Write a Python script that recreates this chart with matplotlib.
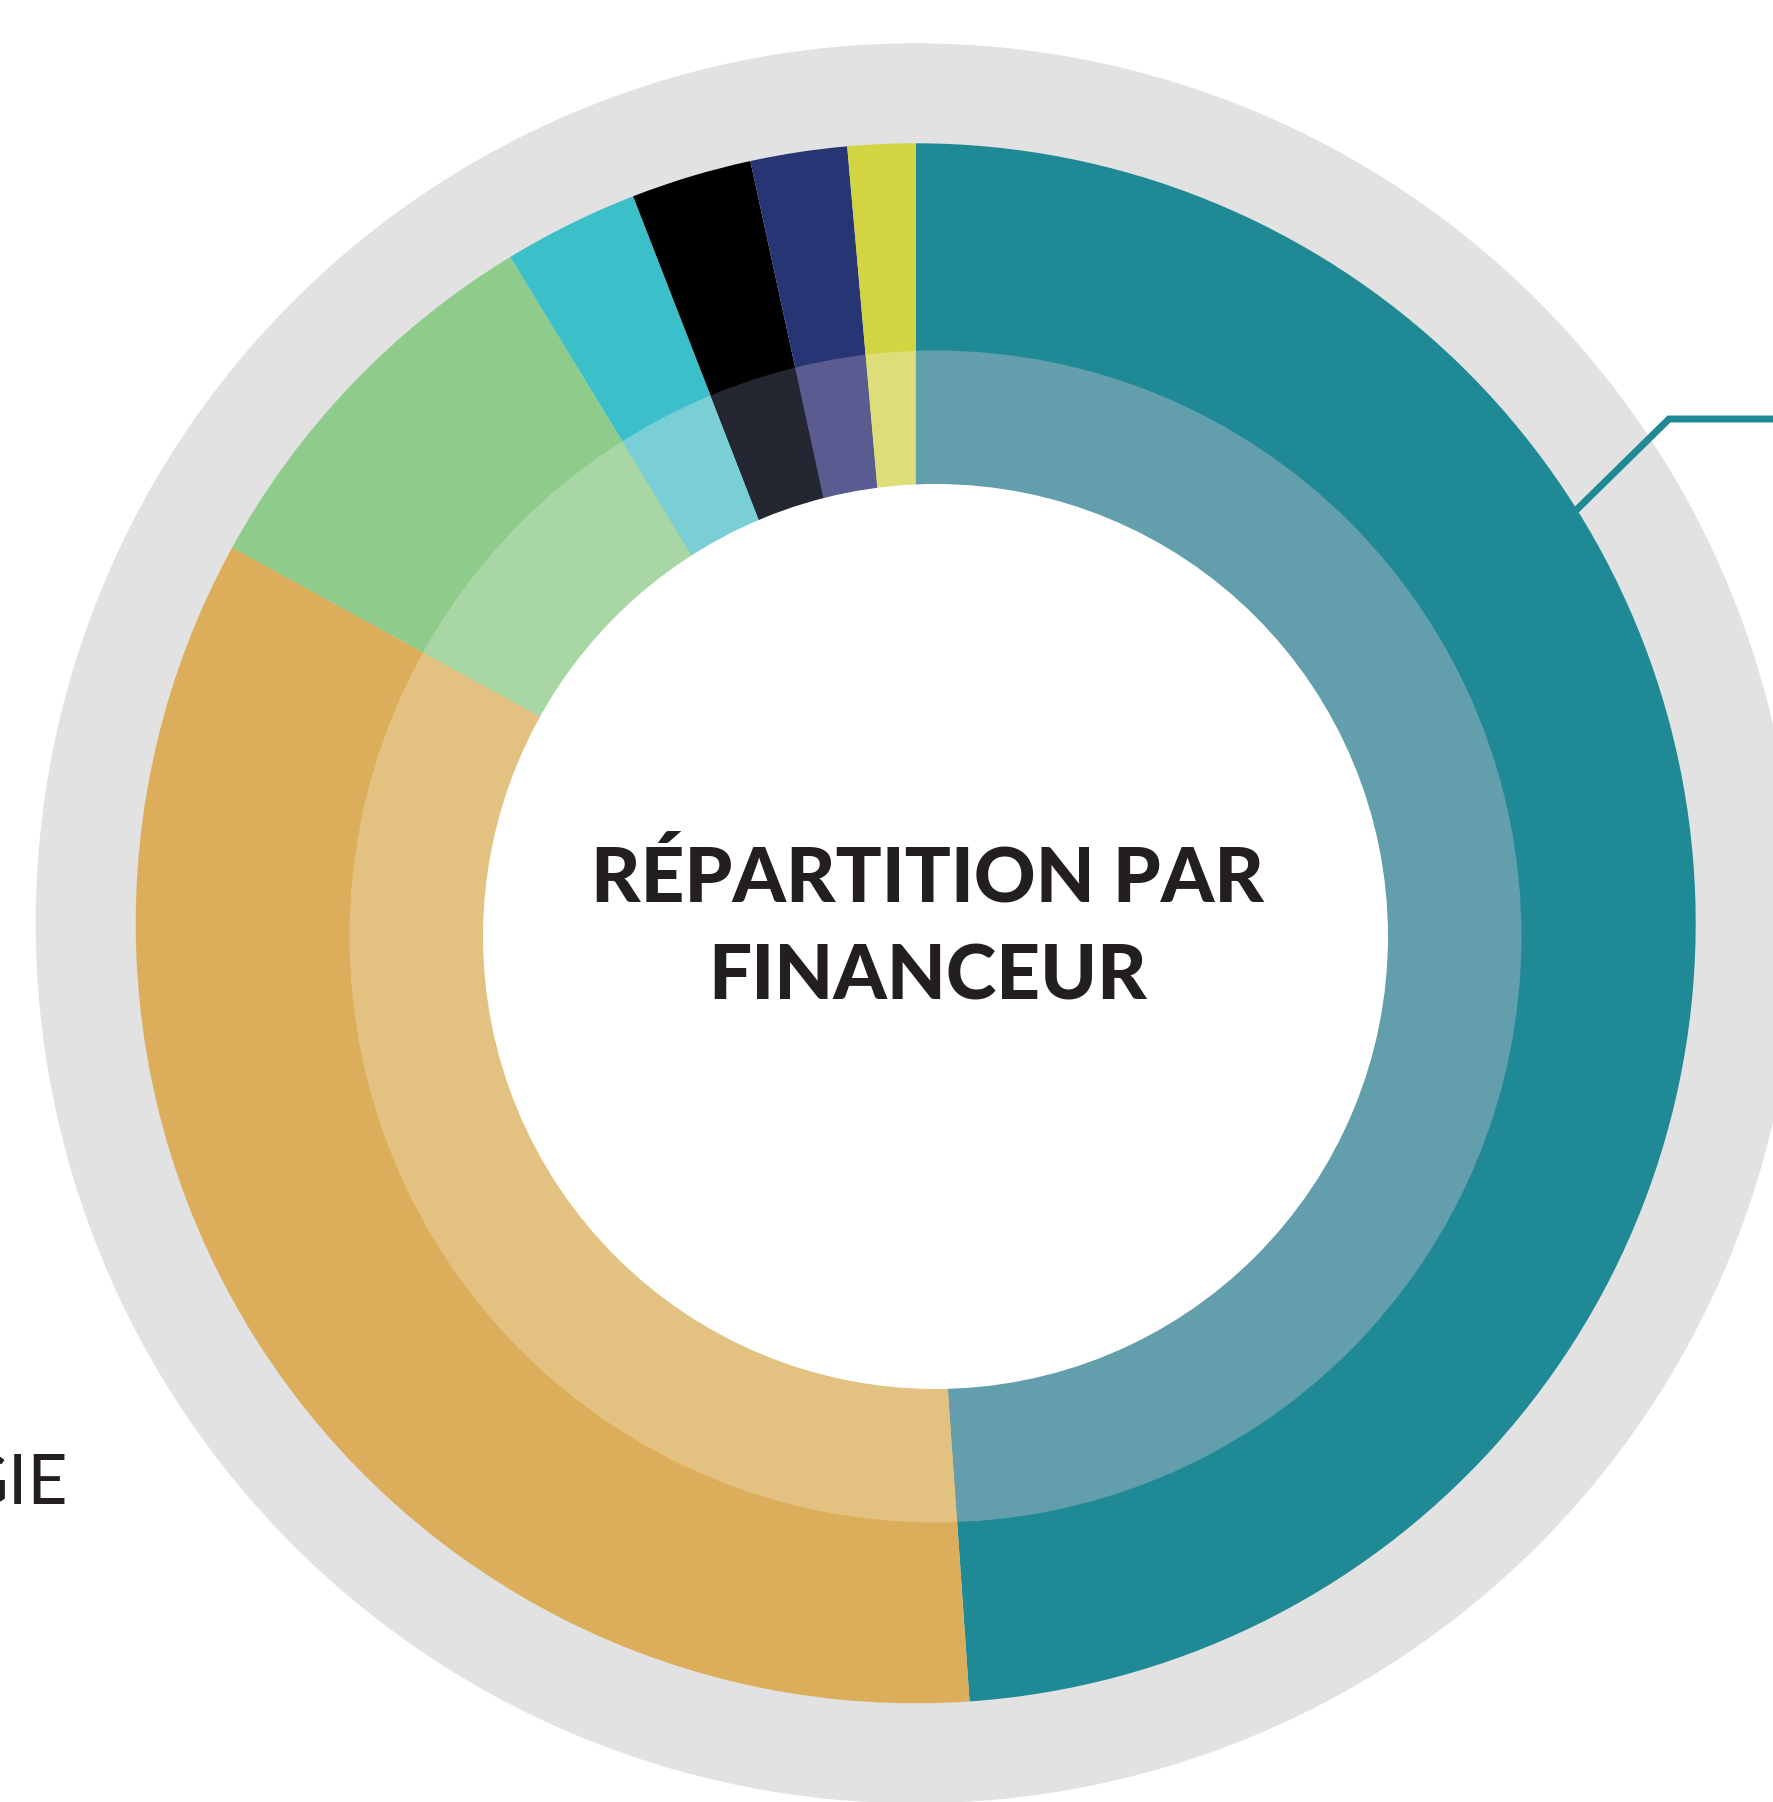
# coding: utf-8
'''
Donut : répartition par financeur
'''

import matplotlib.pyplot as plt
from matplotlib.patches import Circle

# parts en % (sens horaire depuis midi)
parts = [48.9, 34.1, 8.3, 2.8, 2.5, 2.0, 1.4]
couleurs = ['#1F8996', '#DCAE5B', '#8FCB8A', '#3BC0C9', '#000000', '#283574', '#D2D541']
couleurs_claires = ['#629EAC', '#E3C180', '#A9D6A5', '#7ACED5', '#242631', '#5A5B90', '#DDDD7A']
titre = ['RÉPARTITION PAR', 'FINANCEUR']
etiquette = 'GIE'

W, H = 1774, 1802
cx, cy = 915.7, H - 923.3      # centre du camembert
bx, by = 935.5, H - 936.5      # centre de la bande claire

fig = plt.figure(figsize=(W / 100, H / 100), dpi=100)
ax = fig.add_axes([0, 0, 1, 1])

# anneau gris de fond
ax.add_patch(Circle((cx, cy), 880, color='#E2E2E2', lw=0, zorder=0))

# trait de rappel
ax.plot([1560, 1669, W + 20], [H - 526, H - 419, H - 419], color='#1F8996',
        lw=5, solid_joinstyle='miter', solid_capstyle='butt', zorder=1)

wedges, _ = ax.pie(parts, colors=couleurs, radius=780, center=(cx, cy),
                   startangle=90, counterclock=False,
                   wedgeprops=dict(linewidth=0))
for w in wedges:
    w.set_zorder(2)

# bande claire (même découpage, autre centre)
clip = Circle((bx, by), 586, transform=ax.transData)
wedges2, _ = ax.pie(parts, colors=couleurs_claires, radius=780, center=(cx, cy),
                    startangle=90, counterclock=False,
                    wedgeprops=dict(linewidth=0))
for w in wedges2:
    w.set_zorder(3)
    w.set_clip_on(True)
    w.set_clip_path(clip)

ax.add_patch(Circle((bx, by), 452.5, color='white', lw=0, zorder=4))

ax.text(928, H - 901, titre[0], ha='center', va='baseline', fontsize=55,
        family='Lato', fontweight=900, color='#231F20', zorder=5)
ax.text(928, H - 1000, titre[1], ha='center', va='baseline', fontsize=55,
        family='Lato', fontweight=900, color='#231F20', zorder=5)

ax.text(68, H - 1505, etiquette, ha='right', va='baseline', fontsize=50,
        family='Lato', fontweight='normal', color='#231F20', zorder=5)

ax.set_xlim(0, W)
ax.set_ylim(0, H)
ax.set_aspect('equal')
ax.axis('off')

fig.savefig('out.png', dpi=100, facecolor='white')
